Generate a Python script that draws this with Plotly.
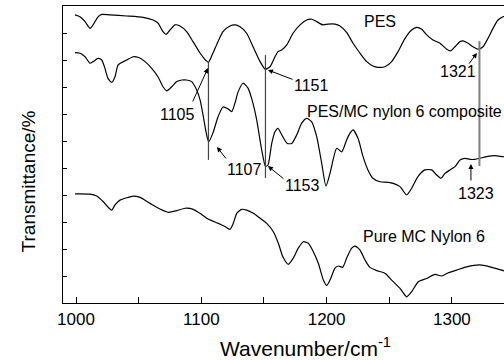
import plotly.graph_objects as go

# ---- data (y in arbitrary transmittance units) ----
pes_wn = [999.2, 1003.2, 1007.2, 1011.2, 1013.6, 1017.6, 1020.5, 1027.1, 1040.5, 1053.5, 1061.5, 1065.4,
          1069.4, 1071.8, 1075.0, 1079.0, 1083.0, 1088.3, 1093.4, 1099.0, 1103.5, 1105.7, 1109.3, 1113.3,
          1117.3, 1122.9, 1126.9, 1130.9, 1136.2, 1141.3, 1146.9, 1151.0, 1154.8, 1158.8, 1161.2, 1164.2,
          1168.2, 1173.2, 1178.8, 1184.1, 1188.1, 1192.1, 1197.1, 1201.1, 1206.7, 1210.7, 1216.0, 1221.1,
          1226.7, 1232.0, 1237.0, 1241.0, 1246.6, 1251.9, 1257.0, 1262.6, 1267.9, 1271.9, 1275.9, 1279.9,
          1284.9, 1290.5, 1295.9, 1299.0, 1302.5, 1306.5, 1308.9, 1312.9, 1316.8, 1321.0, 1324.8, 1328.8,
          1332.8, 1336.8, 1340.8, 1346.0]
pes_t = [106.7, 106.0, 104.2, 101.7, 103.0, 106.0, 106.9, 106.7, 106.3, 105.8, 104.8, 103.7,
         100.5, 99.5, 101.1, 103.0, 102.6, 100.5, 96.8, 92.6, 89.9, 89.1, 92.6, 96.8,
         100.5, 102.6, 103.0, 102.3, 99.9, 94.9, 89.4, 86.6, 87.5, 91.2, 93.1, 93.7,
         95.6, 99.9, 103.0, 104.8, 105.1, 104.2, 103.0, 103.3, 103.3, 102.6, 100.2, 96.2,
         92.5, 89.4, 87.8, 87.3, 87.5, 89.4, 93.1, 98.0, 101.1, 102.1, 101.4, 99.3,
         97.4, 96.2, 94.0, 93.4, 94.9, 96.8, 97.1, 96.2, 94.9, 94.0, 94.9, 98.0,
         101.7, 104.8, 106.0, 107.0]

comp_wn = [999.2, 1003.2, 1007.2, 1011.2, 1013.6, 1017.6, 1020.5, 1023.1, 1025.5, 1028.5, 1031.1, 1033.5,
           1036.5, 1040.5, 1045.5, 1049.5, 1055.1, 1060.4, 1065.4, 1069.4, 1072.4, 1076.4, 1080.4, 1084.4,
           1088.3, 1092.3, 1096.3, 1099.0, 1101.4, 1103.8, 1105.9, 1109.3, 1113.3, 1117.3, 1121.3, 1124.3,
           1126.9, 1129.3, 1133.3, 1137.3, 1140.5, 1144.2, 1148.2, 1151.2, 1153.2, 1156.2, 1158.8, 1161.2,
           1165.0, 1168.6, 1172.2, 1176.1, 1180.1, 1184.1, 1188.1, 1192.1, 1196.1, 1199.5, 1202.7, 1208.1,
           1212.1, 1216.0, 1218.7, 1221.1, 1225.1, 1229.1, 1233.0, 1237.0, 1242.6, 1250.6, 1258.6, 1263.9,
           1267.9, 1272.9, 1278.5, 1283.9, 1287.9, 1291.3, 1294.5, 1298.5, 1302.5, 1306.5, 1310.5, 1314.5,
           1318.4, 1322.4, 1327.8, 1334.4, 1340.8, 1346.0]
comp_t = [92.7, 92.5, 91.2, 88.8, 89.4, 90.6, 90.0, 86.9, 83.2, 81.7, 83.8, 88.1,
          89.1, 90.0, 91.2, 91.0, 89.4, 86.9, 83.8, 80.1, 78.6, 80.1, 82.0, 82.6,
          82.6, 82.0, 78.9, 75.2, 69.6, 63.3, 59.7, 63.0, 68.9, 72.6, 71.9, 70.9,
          74.1, 78.1, 81.4, 79.6, 75.2, 67.8, 56.7, 50.7, 51.1, 59.1, 63.4, 64.7,
          61.6, 59.1, 59.1, 62.2, 66.6, 68.4, 67.1, 61.6, 51.7, 43.3, 48.0, 57.3,
          56.0, 60.4, 62.9, 64.1, 61.0, 54.2, 49.3, 46.2, 44.9, 44.6, 43.1, 40.0,
          42.5, 46.8, 49.3, 49.3, 47.4, 46.2, 48.0, 49.3, 50.5, 53.0, 53.6, 53.2,
          53.2, 53.6, 54.2, 54.6, 54.2, 54.0]

pure_wn = [999.2, 1011.2, 1016.5, 1021.8, 1025.8, 1028.5, 1031.1, 1035.1, 1040.5, 1045.7, 1051.1, 1059.1,
           1067.0, 1073.7, 1080.4, 1087.0, 1093.6, 1099.0, 1104.3, 1108.3, 1113.6, 1118.9, 1122.9, 1125.5,
           1128.3, 1132.2, 1136.2, 1141.5, 1146.9, 1152.2, 1157.5, 1161.5, 1165.2, 1169.4, 1173.4, 1177.4,
           1181.4, 1185.4, 1189.4, 1193.4, 1197.4, 1200.1, 1202.7, 1206.7, 1209.3, 1212.8, 1216.0, 1220.0,
           1222.7, 1226.7, 1230.7, 1234.6, 1240.0, 1246.6, 1251.9, 1258.6, 1263.9, 1267.9, 1273.2, 1279.9,
           1286.5, 1291.9, 1297.1, 1303.8, 1311.8, 1322.4, 1330.4, 1341.0, 1346.0]
pure_t = [40.4, 40.3, 39.6, 37.5, 35.4, 34.4, 36.3, 38.1, 39.0, 39.6, 39.1, 36.9,
          34.8, 33.6, 34.2, 35.1, 34.7, 33.2, 31.4, 30.5, 29.5, 28.3, 27.3, 29.5,
          33.2, 34.7, 34.4, 33.2, 31.4, 29.5, 26.4, 22.1, 17.0, 14.3, 16.6, 20.3,
          22.7, 22.1, 19.0, 14.7, 8.5, 6.5, 8.5, 12.9, 13.7, 13.2, 16.6, 20.3,
          21.1, 19.6, 15.9, 13.2, 12.0, 11.0, 8.5, 5.4, 2.3, 4.2, 7.9, 9.1,
          10.6, 10.0, 11.2, 12.2, 13.4, 14.1, 13.4, 12.0, 11.5]

x_ticks = [1000, 1100, 1200, 1300]

# marker lines: (wavenumber, y_top, y_bottom, colour, width)
marker_wn = [1105.7, 1151.2, 1322.0]
marker_top = [89.3, 91.9, 97.0]
marker_bot = [53.0, 46.3, 50.7]
marker_col = ["#444444", "#444444", "#808080"]
marker_w = [1.2, 1.2, 2.0]

# peak labels: text, x, y
lab_text = ["1105", "1151", "1321", "1107", "1153", "1323"]
lab_x = [1080.6, 1188.3, 1304.9, 1134.1, 1180.4, 1319.2]
lab_y = [70.0, 80.7, 85.6, 49.3, 43.7, 40.7]
# arrows: tail (ax, ay) -> head (x, y)
arr_tx = [1092.6, 1174.0, 1312.9, 1120.5, 1166.8, 1315.2]
arr_ty = [74.1, 82.6, 88.1, 53.0, 45.6, 44.8]
arr_hx = [1105.3, 1153.2, 1320.0, 1112.5, 1153.2, 1315.2]
arr_hy = [87.0, 86.3, 92.6, 57.8, 50.7, 51.5]

series_names = ["PES", "PES/MC nylon 6 composite", "Pure MC Nylon 6"]
name_x = [1242.6, 1182.8, 1277.7]
name_y = [104.1, 71.1, 24.8]
name_anchor = ["center", "left", "center"]

x_title = "Wavenumber/cm<sup>-1</sup>"
y_title = "Transmittance/%"

FONT = "Arial, Liberation Sans, sans-serif"

fig = go.Figure()
for wn, t in [(pes_wn, pes_t), (comp_wn, comp_t), (pure_wn, pure_t)]:
    fig.add_trace(go.Scatter(x=wn, y=t, mode="lines",
                             line=dict(color="black", width=1.2, shape="spline", smoothing=0.6),
                             showlegend=False, hoverinfo="skip"))

for xv, yt, yb, c, w in zip(marker_wn, marker_top, marker_bot, marker_col, marker_w):
    fig.add_shape(type="line", x0=xv, x1=xv, y0=yb, y1=yt, xref="x", yref="y", line=dict(color=c, width=w))

for t, x, y in zip(lab_text, lab_x, lab_y):
    fig.add_annotation(x=x, y=y, text=t, showarrow=False, font=dict(size=16, color="black", family=FONT))

for tx, ty, hx, hy in zip(arr_tx, arr_ty, arr_hx, arr_hy):
    fig.add_annotation(x=hx, y=hy, ax=tx, ay=ty, axref="x", ayref="y", text="", showarrow=True,
                       arrowhead=2, arrowsize=1.0, arrowwidth=1, arrowcolor="black", standoff=0)

for t, x, y, a in zip(series_names, name_x, name_y, name_anchor):
    fig.add_annotation(x=x, y=y, text=t, showarrow=False, xanchor=a,
                       font=dict(size=16, color="black", family=FONT))

# axis titles placed as paper annotations for precise position
fig.add_annotation(x=0.549, y=-0.148, xref="paper", yref="paper", text=x_title, showarrow=False,
                   xanchor="center", yanchor="middle", font=dict(size=21, color="black", family=FONT))
fig.add_annotation(x=-0.079, y=0.41, xref="paper", yref="paper", text=y_title, showarrow=False,
                   textangle=-90, xanchor="center", yanchor="middle",
                   font=dict(size=19, color="black", family=FONT))

fig.update_layout(
    width=504, height=360,
    margin=dict(l=63, r=0, t=6, b=57, autoexpand=False),
    paper_bgcolor="white", plot_bgcolor="white",
    font=dict(family=FONT, color="black"),
    xaxis=dict(range=[989.6, 1341.6], tickvals=x_ticks, ticks="inside", ticklen=6, tickwidth=1,
               tickcolor="black", showline=True, linecolor="black", linewidth=1.3, mirror=True,
               showgrid=False, zeroline=False, tickfont=dict(size=17), automargin=False,
               minor=dict(dtick=50, tick0=1000, ticks="inside", ticklen=6, tickcolor="black", showgrid=False)),
    yaxis=dict(range=[0, 110], dtick=10, ticks="inside", ticklen=4, tickcolor="black",
               showticklabels=False, showline=True, linecolor="black", linewidth=1.3, mirror=False,
               showgrid=False, zeroline=False, automargin=False),
)

fig.write_html("out.html", config={"displayModeBar": False},
               post_script="document.body.style.margin='0';document.body.style.overflow='hidden';")
